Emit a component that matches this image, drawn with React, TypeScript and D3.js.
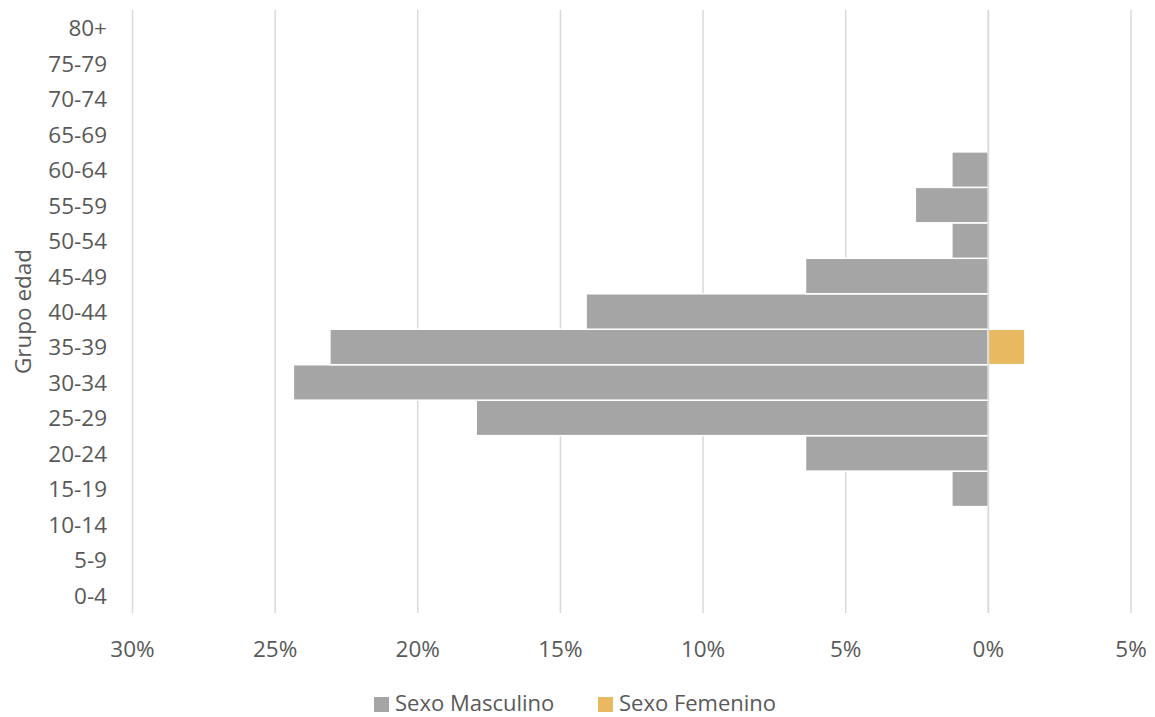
import React from "react";
import * as d3 from "d3";

const categories = ["0-4","5-9","10-14","15-19","20-24","25-29","30-34","35-39","40-44","45-49","50-54","55-59","60-64","65-69","70-74","75-79","80+"];
const masculino = [0, 0, 0, 1.28, 6.41, 17.95, 24.36, 23.08, 14.1, 6.41, 1.28, 2.56, 1.28, 0, 0, 0, 0];
const femenino = [0, 0, 0, 0, 0, 0, 0, 1.28, 0, 0, 0, 0, 0, 0, 0, 0, 0];
const xTicks = [-30, -25, -20, -15, -10, -5, 0, 5];
const seriesNames = ["Sexo Masculino", "Sexo Femenino"];
const colors = ["#A5A5A5", "#E8B961"];

const W = 1155, H = 717;
const FONT = "'Open Sans', sans-serif";
const TXT = "#595959";

export default function App() {
  const x = d3.scaleLinear().domain([-30, 5]).range([132.5, 1131]);
  const y = d3.scaleBand<string>().domain([...categories].reverse()).range([10, 613]).padding(0);
  const bw = y.bandwidth();
  return (
    <svg width={W} height={H} style={{ position: "absolute", left: 0, top: 0, background: "#fff" }}>
      {xTicks.map((t) => (
        <line key={t} x1={x(t)} x2={x(t)} y1={10} y2={613} stroke="#D9D9D9" strokeWidth={1.5} />
      ))}
      {categories.map((c, i) =>
        masculino[i] > 0 ? (
          <rect key={"m" + c} x={x(-masculino[i])} y={y(c)!} width={x(0) - x(-masculino[i])} height={bw}
            fill={colors[0]} stroke="#fff" strokeWidth={1.5} />
        ) : null
      )}
      {categories.map((c, i) =>
        femenino[i] > 0 ? (
          <rect key={"f" + c} x={x(0)} y={y(c)!} width={x(femenino[i]) - x(0)} height={bw}
            fill={colors[1]} stroke="#fff" strokeWidth={1.5} />
        ) : null
      )}
      <line x1={x(0)} x2={x(0)} y1={10} y2={613} stroke="#D9D9D9" strokeWidth={1.5} />
      {categories.map((c) => (
        <text key={"l" + c} x={107} y={y(c)! + bw / 2} textAnchor="end" dominantBaseline="central"
          fontFamily={FONT} fontSize={22.5} fill={TXT}>{c}</text>
      ))}
      {xTicks.map((t) => (
        <text key={"t" + t} x={x(t)} y={648} textAnchor="middle" dominantBaseline="central"
          fontFamily={FONT} fontSize={22.5} fill={TXT}>{Math.abs(t) + "%"}</text>
      ))}
      <text transform={`translate(22,${(10 + 613) / 2}) rotate(-90)`} textAnchor="middle" dominantBaseline="central"
        fontFamily={FONT} fontSize={22.5} fill={TXT}>Grupo edad</text>
      {seriesNames.map((s, i) => {
        const sx = [374, 598][i];
        return (
          <g key={s}>
            <rect x={sx} y={697} width={15} height={15} fill={colors[i]} />
            <text x={sx + 21} y={702} dominantBaseline="central" fontFamily={FONT} fontSize={22} fill={TXT}>{s}</text>
          </g>
        );
      })}
    </svg>
  );
}
